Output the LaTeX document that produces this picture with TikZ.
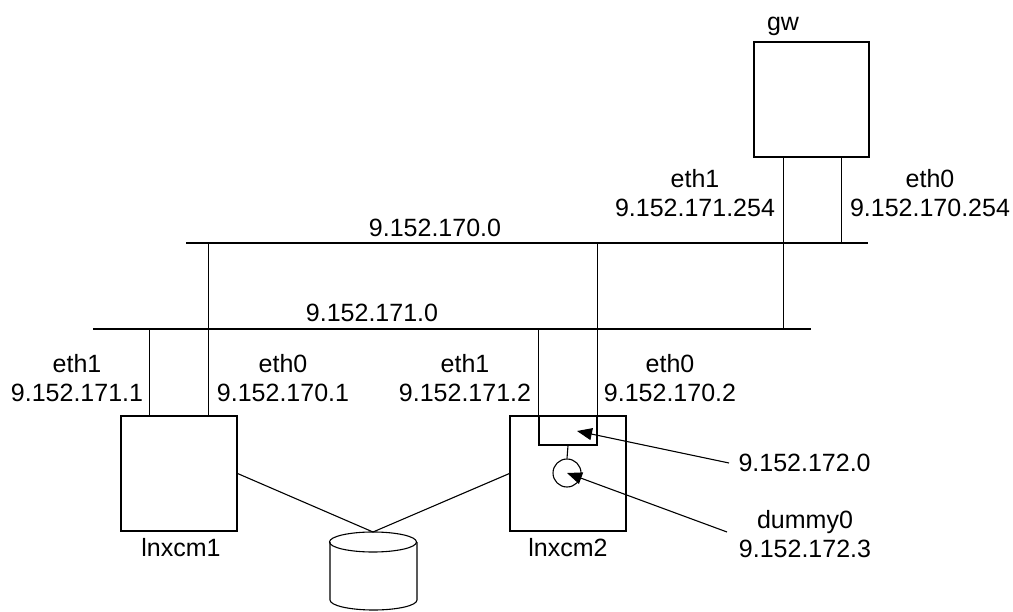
\documentclass[tikz,border=0pt]{standalone}
\usepackage{fontspec}
\setmainfont{Liberation Sans}
\usetikzlibrary{arrows.meta,calc}
\begin{document}
\begin{tikzpicture}[x=1pt,y=-1pt,
  line width=1.1pt,
  every node/.style={font=\fontsize{25}{29}\selectfont},
  hostbox/.style={draw,line width=1.1pt,minimum width=116pt,minimum height=115pt,inner sep=0},
  lbl/.style={align=center,inner sep=0},
  arr/.style={-{Triangle[length=15pt,width=12pt]}}]
\useasboundingbox (0,0) rectangle (1013,612);
% hosts
\node[hostbox,minimum width=115pt] (gw) at (811.5,99.5) {};
\node[hostbox] (l1) at (179,473.5) {};
\node[hostbox] (l2) at (568,473.5) {};
\node[draw,line width=1.1pt,inner sep=0,minimum width=58pt,minimum height=29pt] (vbr) at (568,430.5) {};
\node[draw,circle,line width=1.1pt,inner sep=0,minimum size=28pt] (d0) at (567,473) {};
% buses
\coordinate (b170w) at (186,243);
\coordinate (b170e) at (868,243);
\coordinate (b171w) at (93,329);
\coordinate (b171e) at (811,329);
\draw (b170w) -- (b170e);
\draw (b171w) -- (b171e);
% taps
\coordinate (l1a) at ($(l1.north west)!.25!(l1.north east)$);
\coordinate (l1b) at ($(l1.north west)!.75!(l1.north east)$);
\coordinate (gwa) at ($(gw.south west)!.26!(gw.south east)$);
\coordinate (gwb) at ($(gw.south west)!.755!(gw.south east)$);
\draw (l1a) -- (l1a |- b171w);
\draw (l1b) -- (l1b |- b170w);
\draw (vbr.north west) -- (vbr.north west |- b171w);
\draw (vbr.north east) -- (vbr.north east |- b170w);
\draw (gwa) -- (gwa |- b171w);
\draw (gwb) -- (gwb |- b170w);
\draw (vbr.south) -- (d0.north);
% storage
\node[inner sep=0,minimum width=87pt,minimum height=78pt] (db) at (373,571) {};
\coordinate (dbtop) at (373,532);
\draw (330,542) -- (330,600) arc[start angle=180,end angle=360,x radius=43.5pt,y radius=10pt] -- (417,542);
\draw (373,542) ellipse [x radius=43.5pt,y radius=10pt];
\draw (l1.east) -- (dbtop);
\draw (l2.west) -- (dbtop);
% labels
\node[anchor=base] (gwl) at (783,31) {gw};
\node[anchor=base] (l1l) at (181,556) {lnxcm1};
\node[anchor=base] (l2l) at (568,556) {lnxcm2};
\node[lbl] (e1a) at (77,378) {eth1\\9.152.171.1};
\node[lbl] (e0a) at (283,378) {eth0\\9.152.170.1};
\node[lbl] (e1b) at (465,378) {eth1\\9.152.171.2};
\node[lbl] (e0b) at (670,378) {eth0\\9.152.170.2};
\node[lbl] (e1g) at (695,193) {eth1\\9.152.171.254};
\node[lbl] (e0g) at (930,193) {eth0\\9.152.170.254};
\node[lbl] (n170) at (435,228) {9.152.170.0};
\node[lbl] (n171) at (372,313) {9.152.171.0};
\node[lbl,anchor=west] (n172) at (738,463) {9.152.172.0};
\node[lbl] (dum) at (805,534) {dummy0\\9.152.172.3};
% arrows
\coordinate (a1s) at (729,463);
\coordinate (a1t) at (577,431);
\coordinate (a2s) at (727,532);
\draw[arr] (a1s) -- (a1t);
\draw[arr] (a2s) -- (d0.center);
\end{tikzpicture}
\end{document}
